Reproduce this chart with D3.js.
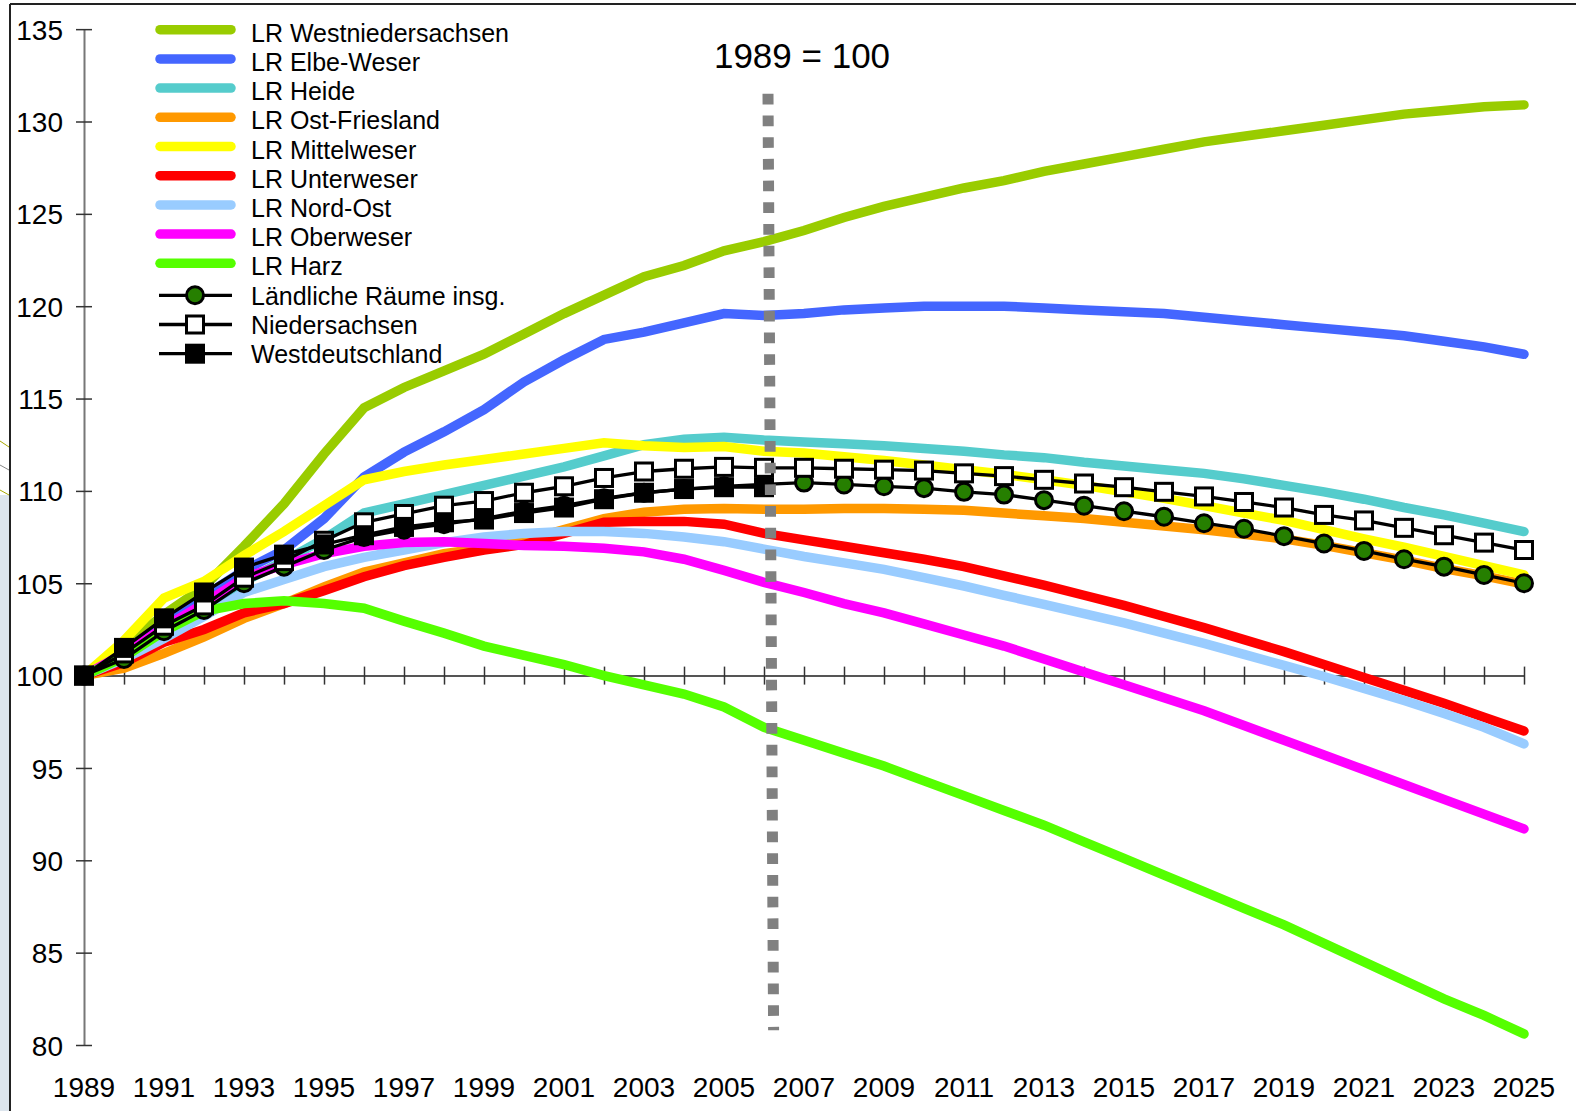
<!DOCTYPE html>
<html>
<head>
<meta charset="utf-8">
<script src="https://cdn.jsdelivr.net/npm/d3@7"></script>
<style>
  html, body { margin: 0; padding: 0; background: #ffffff; }
  svg { display: block; }
  text { font-family: "Liberation Sans", Arial, sans-serif; fill: #000; }
</style>
</head>
<body>
<svg id="chart" width="1576" height="1111"></svg>
<script>
// ---------- DATA ----------
const years = [1989,1990,1991,1992,1993,1994,1995,1996,1997,1998,1999,2000,2001,2002,2003,2004,2005,2006,2007,2008,2009,2010,2011,2012,2013,2014,2015,2016,2017,2018,2019,2020,2021,2022,2023,2024,2025];

const westniedersachsen = [100,101.6,103.3,104.8,107.0,109.3,112.0,114.5,115.6,116.5,117.4,118.5,119.6,120.6,121.6,122.2,123.0,123.5,124.1,124.8,125.4,125.9,126.4,126.8,127.3,127.7,128.1,128.5,128.9,129.2,129.5,129.8,130.1,130.4,130.6,130.8,130.9];
const elbeWeser = [100,101.3,102.8,104.3,105.7,106.8,108.5,110.75,112.1,113.2,114.4,115.9,117.1,118.2,118.6,119.1,119.6,119.5,119.6,119.8,119.9,120.0,120.0,120.0,119.9,119.8,119.7,119.6,119.4,119.2,119.0,118.8,118.6,118.4,118.1,117.8,117.4];
const heide = [100,101.0,102.3,103.7,105.1,106.2,107.4,108.8,109.3,109.8,110.3,110.8,111.3,111.9,112.5,112.8,112.9,112.75,112.65,112.55,112.45,112.3,112.15,111.95,111.8,111.55,111.35,111.15,110.95,110.65,110.3,109.95,109.55,109.1,108.7,108.25,107.8];
const ostFriesland = [100,100.4,101.2,102.1,103.1,103.9,104.8,105.6,106.1,106.6,106.9,107.3,107.9,108.5,108.85,109.0,109.05,109.0,109.0,109.05,109.05,109.0,108.95,108.8,108.65,108.5,108.3,108.1,107.9,107.65,107.4,107.05,106.65,106.25,105.8,105.4,104.95];
const mittelweser = [100,101.9,104.2,105.1,106.5,107.8,109.2,110.6,111.05,111.4,111.7,112.0,112.3,112.6,112.45,112.35,112.4,112.15,112.05,111.85,111.65,111.4,111.15,110.9,110.6,110.3,109.95,109.6,109.2,108.8,108.4,107.9,107.4,106.95,106.45,105.95,105.45];
const unterweser = [100,100.7,101.8,102.5,103.4,103.9,104.6,105.35,105.95,106.4,106.8,107.1,107.7,108.3,108.35,108.35,108.2,107.7,107.35,107.0,106.65,106.3,105.9,105.4,104.9,104.35,103.8,103.2,102.6,101.95,101.3,100.6,99.9,99.2,98.5,97.75,97.0];
const nordOst = [100,100.9,102.0,103.2,104.5,105.2,105.9,106.4,106.8,107.2,107.5,107.7,107.8,107.8,107.7,107.5,107.25,106.85,106.45,106.1,105.75,105.3,104.85,104.35,103.85,103.35,102.85,102.3,101.75,101.15,100.55,99.95,99.3,98.65,97.95,97.2,96.3];
const oberweser = [100,101.2,102.6,103.9,105.3,106.0,106.6,107.0,107.2,107.25,107.15,107.05,107.0,106.9,106.7,106.3,105.7,105.05,104.5,103.9,103.4,102.8,102.2,101.6,100.9,100.2,99.5,98.8,98.1,97.3,96.5,95.7,94.9,94.1,93.3,92.5,91.7];
const harz = [100,101.0,102.4,103.5,103.9,104.05,103.9,103.65,102.95,102.3,101.6,101.1,100.6,100.0,99.5,99.0,98.3,97.2,96.5,95.8,95.1,94.3,93.5,92.7,91.9,91.0,90.1,89.2,88.3,87.4,86.5,85.5,84.5,83.5,82.5,81.6,80.6];
const laendlicheRaeume = [100,100.9,102.4,103.55,105.0,105.9,106.8,107.5,107.9,108.2,108.5,108.9,109.2,109.6,109.9,110.1,110.25,110.35,110.45,110.35,110.25,110.15,109.95,109.8,109.5,109.2,108.9,108.6,108.25,107.95,107.55,107.15,106.75,106.3,105.9,105.45,105.0];
const niedersachsen = [100,101.2,102.7,103.8,105.3,106.2,107.3,108.3,108.75,109.2,109.45,109.9,110.25,110.7,111.05,111.2,111.3,111.25,111.25,111.2,111.15,111.1,110.95,110.8,110.6,110.4,110.2,109.95,109.7,109.4,109.1,108.7,108.4,108.0,107.6,107.2,106.8];
const westdeutschland = [100,101.5,103.1,104.5,105.85,106.55,107.1,107.6,108.05,108.3,108.45,108.8,109.1,109.55,109.9,110.1,110.2,110.2];

const lineSeriesNames = ["LR Westniedersachsen","LR Elbe-Weser","LR Heide","LR Ost-Friesland","LR Mittelweser","LR Unterweser","LR Nord-Ost","LR Oberweser","LR Harz"];
const lineSeriesColors = ["#99CC00","#4466FF","#55CCCC","#FF9900","#FFFF00","#FF0000","#99CCFF","#FF00FF","#55FF00"];
const lineSeriesValues = [westniedersachsen, elbeWeser, heide, ostFriesland, mittelweser, unterweser, nordOst, oberweser, harz];

const markerSeriesNames = ["Ländliche Räume insg.","Niedersachsen","Westdeutschland"];
const markerSeriesValues = [laendlicheRaeume, niedersachsen, westdeutschland];
const markerShapes = ["circle","openSquare","filledSquare"];

const yTickValues = [80,85,90,95,100,105,110,115,120,125,130,135];
const xTickLabels = [1989,1991,1993,1995,1997,1999,2001,2003,2005,2007,2009,2011,2013,2015,2017,2019,2021,2023,2025];

const baseLabel = "1989 = 100";
const refLineYears = [2006.1, 2006.24];
const refLineValues = [131.5, 80.8];

// ---------- DRAW ----------
const svg = d3.select("#chart");
const W = 1576, H = 1111;

// page decorations (slide frame)
svg.append("rect").attr("x",0).attr("y",0).attr("width",W).attr("height",H).attr("fill","#fff");
svg.append("rect").attr("x",0).attr("y",495).attr("width",10).attr("height",H-495).attr("fill","#dde5ed");
svg.append("line").attr("x1",0).attr("y1",441).attr("x2",9).attr("y2",447).attr("stroke","#a8a800").attr("stroke-width",1);
svg.append("line").attr("x1",0).attr("y1",465).attr("x2",9).attr("y2",470).attr("stroke","#888").attr("stroke-width",1);
svg.append("line").attr("x1",0).attr("y1",490).attr("x2",9).attr("y2",495).attr("stroke","#a8a800").attr("stroke-width",1);
svg.append("line").attr("x1",10).attr("y1",4).attr("x2",10).attr("y2",H).attr("stroke","#222").attr("stroke-width",2);
svg.append("line").attr("x1",10).attr("y1",4).attr("x2",W).attr("y2",4).attr("stroke","#222").attr("stroke-width",2);

const x = d3.scaleLinear().domain([1989, 2025]).range([84, 1524]);
const y = d3.scaleLinear().domain([80, 135]).range([1045, 29.15]);

// Y axis
const yAxis = d3.axisLeft(y).tickValues(yTickValues).tickSize(0).tickPadding(21).tickFormat(d3.format("d"));
const gy = svg.append("g").attr("transform", `translate(${x(1989)},0)`).call(yAxis);
gy.select(".domain").attr("stroke","#777").attr("stroke-width",2);
gy.selectAll(".tick text").attr("font-size",28).attr("font-family","Liberation Sans, Arial, sans-serif").attr("fill","#000").attr("dy","0.36em");
gy.selectAll(".tick").append("line").attr("x1",-8).attr("x2",8).attr("stroke","#333").attr("stroke-width",1.5);

// X axis at y=100 (ticks only)
const xAxis = d3.axisBottom(x).tickValues(years).tickSize(0).tickFormat("");
const gx = svg.append("g").attr("transform", `translate(0,${y(100)})`).call(xAxis);
gx.select(".domain").attr("stroke","#555").attr("stroke-width",2);
gx.selectAll(".tick").filter(d => d !== 1989).append("line").attr("y1",-9).attr("y2",9).attr("stroke","#333").attr("stroke-width",1.5);

// X labels at bottom
svg.append("g").selectAll("text").data(xTickLabels).join("text")
  .attr("x", d => x(d)).attr("y", 1097)
  .attr("text-anchor","middle").attr("font-size",28).text(d => d);

// colored lines
const lineGen = d3.line().x((d,i) => x(years[i])).y(d => y(d));
lineSeriesValues.forEach((vals, k) => {
  svg.append("path").datum(vals)
    .attr("d", lineGen)
    .attr("fill","none")
    .attr("stroke", lineSeriesColors[k])
    .attr("stroke-width", 9.5)
    .attr("stroke-linecap","round")
    .attr("stroke-linejoin","miter");
});

// marker series
function drawMarker(g, shape, cx, cy) {
  if (shape === "circle") {
    g.append("circle").attr("cx",cx).attr("cy",cy).attr("r",8.5)
      .attr("fill","#267F00").attr("stroke","#000").attr("stroke-width",3);
  } else if (shape === "openSquare") {
    g.append("rect").attr("x",cx-8.5).attr("y",cy-8.5).attr("width",17).attr("height",17)
      .attr("fill","#fff").attr("stroke","#000").attr("stroke-width",3);
  } else {
    g.append("rect").attr("x",cx-10).attr("y",cy-10).attr("width",20).attr("height",20)
      .attr("fill","#000");
  }
}
markerSeriesValues.forEach((vals, k) => {
  const g = svg.append("g");
  g.append("path").datum(vals).attr("d", lineGen)
    .attr("fill","none").attr("stroke","#000").attr("stroke-width",3.3).attr("stroke-linejoin","round");
  vals.forEach((v,i) => drawMarker(g, markerShapes[k], x(years[i]), y(v)));
});

// reference dotted line
svg.append("line")
  .attr("x1", x(refLineYears[0])).attr("y1", y(refLineValues[0]))
  .attr("x2", x(refLineYears[1])).attr("y2", y(refLineValues[1]))
  .attr("stroke","#808080").attr("stroke-width",11).attr("stroke-dasharray","10.7 11");

svg.append("text").attr("x", 802).attr("y", 68).attr("text-anchor","middle")
  .attr("font-size",35).text(baseLabel);

// legend
const legend = svg.append("g");
const rowH = 29.2, base0 = 41.7;
lineSeriesNames.forEach((name, i) => {
  const by = base0 + rowH*i;
  legend.append("line").attr("x1",160).attr("x2",231).attr("y1",by-12).attr("y2",by-12)
    .attr("stroke", lineSeriesColors[i]).attr("stroke-width",9.5).attr("stroke-linecap","round");
  legend.append("text").attr("x",251).attr("y",by).attr("font-size",25).text(name);
});
markerSeriesNames.forEach((name, k) => {
  const i = lineSeriesNames.length + k;
  const by = base0 + rowH*i;
  const ly = by - 9.2;
  legend.append("line").attr("x1",159).attr("x2",232).attr("y1",ly).attr("y2",ly)
    .attr("stroke","#000").attr("stroke-width",3.3);
  drawMarker(legend, markerShapes[k], 195, ly);
  legend.append("text").attr("x",251).attr("y",by).attr("font-size",25).text(name);
});
</script>
</body>
</html>
